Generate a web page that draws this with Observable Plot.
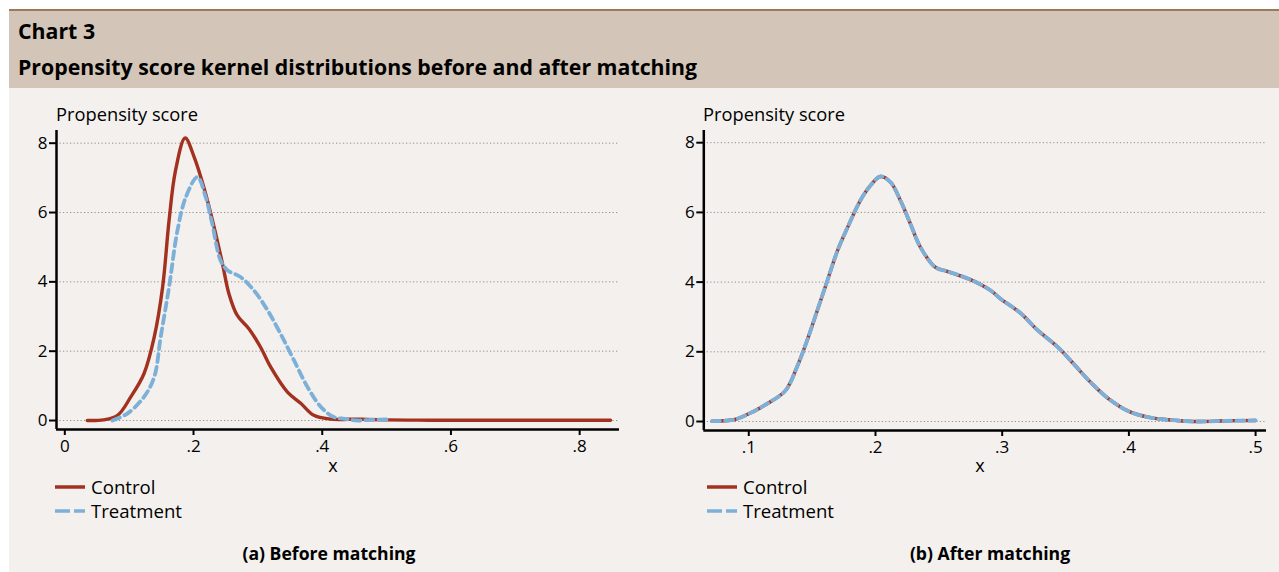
<!DOCTYPE html>
<html>
<head>
<meta charset="utf-8">
<script src="https://cdn.jsdelivr.net/npm/d3@7"></script>
<script src="https://cdn.jsdelivr.net/npm/@observablehq/plot@0.6"></script>
<style>
  html, body { margin: 0; padding: 0; background: #ffffff; }
  body { width: 1279px; height: 572px; position: relative; overflow: hidden; font-family: "Open Sans", Lato, sans-serif; color: #000; }
  .topline { position: absolute; left: 9px; top: 9px; width: 1270px; height: 2px; background: #9a7a57; }
  .header { position: absolute; left: 9px; top: 11px; width: 1270px; height: 77px; background: #d3c6b8; }
  .panel { position: absolute; left: 9px; top: 88px; width: 1270px; height: 484px; background: #f3f0ed; }
  .h1 { position: absolute; left: 18px; top: 17px; font-weight: 700; font-size: 21.3px; line-height: 28px; white-space: nowrap; }
  .h2 { position: absolute; left: 18px; top: 53px; font-weight: 700; font-size: 21.3px; line-height: 28px; white-space: nowrap; }
  .abs { position: absolute; white-space: nowrap; }
  .ylab { font-size: 18.3px; line-height: 24px; }
  .xlab { font-size: 18px; line-height: 24px; transform: translateX(-50%); }
  .leg { font-size: 18.6px; line-height: 24px; }
  .cap { font-size: 17.6px; font-weight: 700; line-height: 24px; transform: translateX(-50%); }
  .chart { position: absolute; }
</style>
</head>
<body>
<div class="topline"></div>
<div class="header"></div>
<div class="panel"></div>
<div class="h1">Chart 3</div>
<div class="h2">Propensity score kernel distributions before and after matching</div>

<div class="abs ylab" style="left:56px; top:102px;">Propensity score</div>
<div class="abs ylab" style="left:703px; top:102px;">Propensity score</div>

<div id="left" class="chart" style="left:0px; top:100px;"></div>
<div id="right" class="chart" style="left:650px; top:100px;"></div>

<div class="abs xlab" style="left:333px; top:453px;">x</div>
<div class="abs xlab" style="left:980px; top:453px;">x</div>

<svg class="abs" style="left:0; top:470px;" width="120" height="60">
  <line x1="55" x2="85" y1="17" y2="17" stroke="#a3311f" stroke-width="3.5"/>
  <line x1="55" x2="85" y1="41" y2="41" stroke="#7db0d8" stroke-width="3.5" stroke-dasharray="15,4"/>
</svg>
<div class="abs leg" style="left:91px; top:475px;">Control</div>
<div class="abs leg" style="left:91px; top:499px;">Treatment</div>

<svg class="abs" style="left:650px; top:470px;" width="120" height="60">
  <line x1="57" x2="87" y1="17" y2="17" stroke="#a3311f" stroke-width="3.5"/>
  <line x1="57" x2="87" y1="41" y2="41" stroke="#7db0d8" stroke-width="3.5" stroke-dasharray="15,4"/>
</svg>
<div class="abs leg" style="left:743px; top:475px;">Control</div>
<div class="abs leg" style="left:743px; top:499px;">Treatment</div>

<div class="abs cap" style="left:329px; top:541px;">(a) Before matching</div>
<div class="abs cap" style="left:990px; top:541px;">(b) After matching</div>

<script>
// ---- Data ----
const seriesNames = ["Control", "Treatment"];

// Before matching: control
const beforeControlX = [0.035, 0.060, 0.082, 0.1025, 0.123, 0.139, 0.152, 0.162, 0.172, 0.187, 0.201, 0.216, 0.232, 0.245, 0.255, 0.268, 0.286, 0.304, 0.320, 0.346, 0.367, 0.387, 0.413, 0.430, 0.450, 0.470, 0.500, 0.550, 0.600, 0.700, 0.848];
const beforeControlY = [0.00, 0.02, 0.15, 0.68, 1.35, 2.41, 3.85, 5.77, 7.21, 8.15, 7.60, 6.73, 5.58, 4.52, 3.66, 3.03, 2.65, 2.12, 1.54, 0.82, 0.49, 0.15, 0.04, 0.03, 0.04, 0.03, 0.02, 0.01, 0.01, 0.01, 0.01];

// Before matching: treatment
const beforeTreatX = [0.074, 0.097, 0.123, 0.139, 0.149, 0.162, 0.175, 0.188, 0.206, 0.219, 0.229, 0.242, 0.253, 0.273, 0.294, 0.315, 0.335, 0.356, 0.377, 0.398, 0.418, 0.435, 0.455, 0.475, 0.500];
const beforeTreatY = [0.00, 0.20, 0.68, 1.26, 2.41, 3.85, 5.48, 6.44, 7.02, 6.44, 5.68, 4.62, 4.33, 4.14, 3.75, 3.18, 2.51, 1.74, 0.97, 0.39, 0.10, 0.05, 0.00, 0.02, 0.03];

// After matching: control and treatment coincide
const afterX = [0.071, 0.088, 0.0987, 0.1145, 0.129, 0.138, 0.146, 0.154, 0.162, 0.170, 0.178, 0.188, 0.196, 0.204, 0.212, 0.2197, 0.2276, 0.2355, 0.2474, 0.2566, 0.275, 0.2908, 0.2987, 0.3145, 0.3276, 0.3434, 0.3565, 0.3697, 0.3841, 0.400, 0.417, 0.438, 0.454, 0.478, 0.500];
const afterControlY = [0.01, 0.05, 0.20, 0.51, 0.89, 1.56, 2.32, 3.18, 4.04, 4.90, 5.57, 6.34, 6.77, 7.03, 6.86, 6.34, 5.67, 5.00, 4.42, 4.31, 4.07, 3.76, 3.52, 3.11, 2.63, 2.15, 1.65, 1.13, 0.65, 0.29, 0.11, 0.03, 0.00, 0.02, 0.03];
const afterTreatY   = [0.01, 0.05, 0.20, 0.51, 0.89, 1.56, 2.32, 3.18, 4.04, 4.90, 5.57, 6.34, 6.77, 7.03, 6.86, 6.34, 5.67, 5.00, 4.42, 4.31, 4.07, 3.76, 3.52, 3.11, 2.63, 2.15, 1.65, 1.13, 0.65, 0.29, 0.11, 0.03, 0.00, 0.02, 0.03];

const yTicks = [0, 2, 4, 6, 8];
const leftXTicks = [0, 0.2, 0.4, 0.6, 0.8];
const rightXTicks = [0.1, 0.2, 0.3, 0.4, 0.5];

// ---- Helpers ----
const RED = "#a3311f", BLUE = "#7db0d8";
const toRows = (xs, ys) => xs.map((x, i) => ({x, y: ys[i]}));
const fmt = d => d === 0 ? "0" : String(+d.toFixed(2)).replace(/^0/, "");

function panel({width, height, margins, xDomain, yDomain, xTicks, control, treat}) {
  return Plot.plot({
    width, height,
    marginLeft: margins[0], marginRight: margins[1], marginTop: margins[2], marginBottom: margins[3],
    style: {background: "transparent", fontFamily: "'Open Sans', Lato, sans-serif", fontSize: "17px", color: "#000", overflow: "visible"},
    x: {domain: xDomain},
    y: {domain: yDomain},
    marks: [
      Plot.gridY(yTicks, {stroke: "#8f8f8f", strokeOpacity: 1, strokeWidth: 1, strokeDasharray: "1.2,2.3"}),
      Plot.axisY(yTicks, {anchor: "left", tickSize: 7, tickPadding: 2, strokeWidth: 2, tickFormat: d => String(d), label: null}),
      Plot.axisX(xTicks, {anchor: "bottom", tickSize: 6, tickPadding: 4, strokeWidth: 2, tickFormat: fmt, label: null}),
      Plot.ruleY([yDomain[0]], {stroke: "#000", strokeWidth: 2.5}),
      Plot.ruleX([xDomain[0]], {stroke: "#000", strokeWidth: 2.5}),
      Plot.line(control, {x: "x", y: "y", stroke: RED, strokeWidth: 3.4, curve: "catmull-rom"}),
      Plot.line(treat, {x: "x", y: "y", stroke: BLUE, strokeWidth: 3.8, strokeDasharray: "8,5", curve: "catmull-rom"})
    ]
  });
}

document.getElementById("left").append(panel({
  width: 640, height: 380, margins: [56, 21, 30, 51],
  xDomain: [-0.0129, 0.8619], yDomain: [-0.259, 8.366], xTicks: leftXTicks,
  control: toRows(beforeControlX, beforeControlY),
  treat: toRows(beforeTreatX, beforeTreatY)
}));

document.getElementById("right").append(panel({
  width: 629, height: 380, margins: [53.3, 13, 30, 50],
  xDomain: [0.0645, 0.5086], yDomain: [-0.258, 8.35], xTicks: rightXTicks,
  control: toRows(afterX, afterControlY),
  treat: toRows(afterX, afterTreatY)
}));
</script>
</body>
</html>
